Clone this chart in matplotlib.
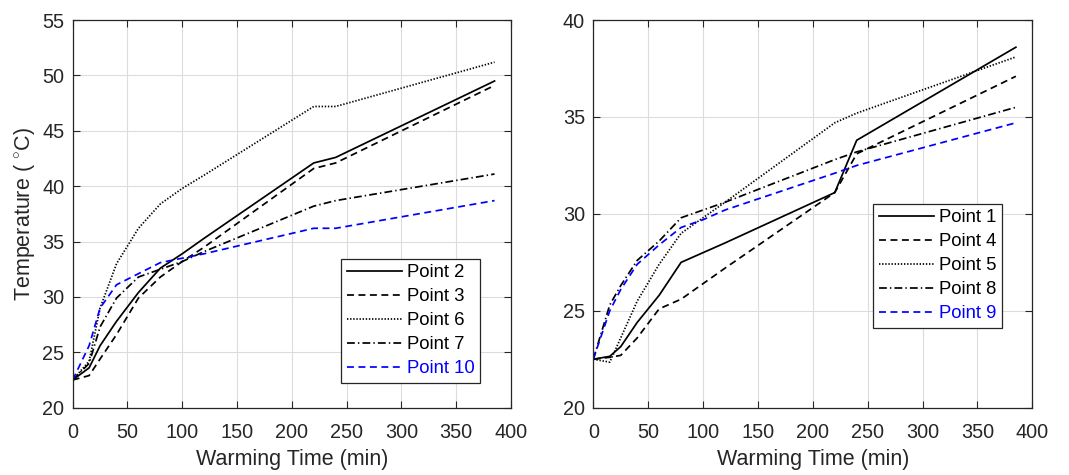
import matplotlib
matplotlib.use("Agg")
import matplotlib.pyplot as plt

plt.rcParams['font.family'] = ['Liberation Sans', 'DejaVu Sans']
plt.rcParams['mathtext.fontset'] = 'custom'
plt.rcParams['mathtext.rm'] = 'Liberation Sans'

# warming time (min)
time = [0, 15, 25, 40, 60, 80, 100, 120, 220, 240, 385]

# left panel
point2 = [22.5, 23.6, 25.6, 27.8, 30.4, 32.6, 33.9, 35.3, 42.1, 42.6, 49.5]
point3 = [22.5, 22.9, 24.4, 26.6, 29.9, 31.8, 33.2, 34.5, 41.6, 42.1, 49.1]
point6 = [22.5, 24.2, 29.0, 33.0, 36.2, 38.4, 39.8, 41.0, 47.2, 47.2, 51.2]
point7 = [22.5, 24.0, 27.3, 29.9, 31.8, 32.5, 33.2, 34.1, 38.2, 38.7, 41.1]
point10 = [22.5, 25.6, 29.0, 31.1, 32.1, 33.1, 33.5, 33.9, 36.2, 36.2, 38.7]

# right panel
point1 = [22.5, 22.65, 23.15, 24.4, 25.8, 27.5, 28.0, 28.5, 31.1, 33.8, 38.6]
point4 = [22.5, 22.6, 22.7, 23.6, 25.1, 25.6, 26.4, 27.2, 31.1, 33.1, 37.1]
point5 = [22.5, 22.35, 23.6, 25.5, 27.4, 29.0, 29.8, 30.6, 34.7, 35.2, 38.1]
point8 = [22.5, 25.3, 26.3, 27.6, 28.6, 29.8, 30.2, 30.6, 32.8, 33.2, 35.5]
point9 = [22.5, 25.0, 26.1, 27.4, 28.4, 29.3, 29.7, 30.2, 32.1, 32.5, 34.7]

txt = '#262626'
lw = 1.25
dash = (0, (4, 2.6))
dot = (0, (0.8, 1.0))
dashdot = (0, (4.5, 1.8, 0.8, 1.8))

fig = plt.figure(figsize=(10.69, 4.75), dpi=100)
ax1 = fig.add_axes([0.068, 0.1417, 0.410, 0.816])
ax2 = fig.add_axes([0.555, 0.1417, 0.4107, 0.816])

ax1.plot(time, point2, color='k', ls='-', lw=lw, label='Point 2')
ax1.plot(time, point3, color='k', ls=dash, lw=lw, label='Point 3')
ax1.plot(time, point6, color='k', ls=dot, lw=lw, label='Point 6')
ax1.plot(time, point7, color='k', ls=dashdot, lw=lw, label='Point 7')
ax1.plot(time, point10, color='b', ls=dash, lw=lw, label='Point 10')

ax2.plot(time, point1, color='k', ls='-', lw=lw, label='Point 1')
ax2.plot(time, point4, color='k', ls=dash, lw=lw, label='Point 4')
ax2.plot(time, point5, color='k', ls=dot, lw=lw, label='Point 5')
ax2.plot(time, point8, color='k', ls=dashdot, lw=lw, label='Point 8')
ax2.plot(time, point9, color='b', ls=dash, lw=lw, label='Point 9')

ax1.set_ylim(20, 55)
ax2.set_ylim(20, 40)
ax1.set_yticks(range(20, 56, 5))
ax2.set_yticks(range(20, 41, 5))
ax1.set_ylabel(r'Temperature ( $^{\circ}$C)', fontsize=15.5, color=txt,
               labelpad=4)

legend_pos = {ax1: (0.929, 0.064), ax2: (0.930, 0.206)}
for ax in (ax1, ax2):
    ax.set_xlim(0, 400)
    ax.set_xticks(range(0, 401, 50))
    ax.set_xlabel('Warming Time (min)', fontsize=15.5, color=txt, labelpad=5)
    ax.grid(True, color='#dcdcdc', lw=0.8)
    ax.set_axisbelow(True)
    ax.tick_params(direction='in', top=True, right=True, labelsize=14.3,
                   colors=txt, length=5, width=0.8)
    ax.tick_params(axis='x', pad=11)
    ax.tick_params(axis='y', pad=6)
    for sp in ax.spines.values():
        sp.set_color(txt)
        sp.set_linewidth(0.9)
    leg = ax.legend(loc='lower right', bbox_to_anchor=legend_pos[ax],
                    fontsize=13.3, handlelength=3.0, handletextpad=0.25,
                    labelspacing=0.38, borderpad=0.3, fancybox=False,
                    framealpha=1, edgecolor=txt, labelcolor='linecolor',
                    borderaxespad=0)
    leg.get_frame().set_linewidth(0.9)

plt.savefig('out.png', dpi=100)
